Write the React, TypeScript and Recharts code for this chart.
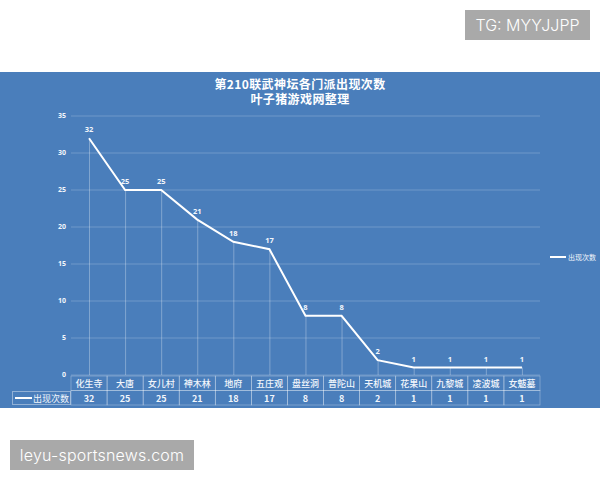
import { ComposedChart, Bar, Line, XAxis, YAxis, CartesianGrid, LabelList } from 'recharts';

const sects = ['化生寺', '大唐', '女儿村', '神木林', '地府', '五庄观', '盘丝洞', '普陀山', '天机城', '花果山', '九黎城', '凌波城', '女魃墓'];
const counts = [32, 25, 25, 21, 18, 17, 8, 8, 2, 1, 1, 1, 1];
const yTicks = [0, 5, 10, 15, 20, 25, 30, 35];
const seriesName = '出现次数';

const data = sects.map((name, i) => ({ name, count: counts[i] }));

const cjk = '"Noto Sans CJK SC", "Noto Sans", sans-serif';
const cellBorder = 'rgba(255,255,255,0.4)';

// one column of the data table under the axis
function TableTick({ x, payload, index }: any) {
    const w = 36.08;
    return (
        <g>
            <rect x={x - w / 2} y={376} width={w} height={14.5} fill="none" stroke={cellBorder} strokeWidth={0.7} />
            <rect x={x - w / 2} y={390.5} width={w} height={14.5} fill="none" stroke={cellBorder} strokeWidth={0.7} />
            <text x={x} y={386.5} textAnchor="middle" fontSize={9} fontWeight={500} fontFamily={cjk} fill="#f2f6fb">{payload.value}</text>
            <text x={x} y={401.5} textAnchor="middle" fontSize={9} fontWeight={700} fontFamily={cjk} fill="#f2f6fb">{counts[index]}</text>
        </g>
    );
}

function Stamp({ text, left, top, width, spacing }: { text: string; left: number; top: number; width: number; spacing: number }) {
    return (
        <div style={{ position: 'absolute', left, top, width, height: 30, background: '#a9a9a9', color: '#fff', fontFamily: 'Inter, "Noto Sans", sans-serif', fontWeight: 300, fontSize: 16, letterSpacing: spacing, lineHeight: '30px', textAlign: 'center', whiteSpace: 'nowrap' }}>
            {text}
        </div>
    );
}

export default function App() {
    return (
        <div style={{ position: 'absolute', left: 0, top: 0, width: 600, height: 480, background: '#fff', overflow: 'hidden' }}>
            <Stamp text="TG: MYYJJPP" left={465} top={10} width={125} spacing={0} />
            <Stamp text="leyu-sportsnews.com" left={10} top={440} width={184} spacing={0.2} />

            <div style={{ position: 'absolute', left: 0, top: 72, width: 600, height: 336, background: '#4a7ebb' }} />
            <div style={{ position: 'absolute', left: 0, top: 77, width: 600, textAlign: 'center', color: '#fff', fontFamily: cjk, fontWeight: 700, fontSize: 12, letterSpacing: 0.4, lineHeight: '14.5px' }}>
                第210联武神坛各门派出现次数<br />叶子猪游戏网整理
            </div>

            <div style={{ position: 'absolute', left: 0, top: 0 }}>
                <ComposedChart width={600} height={408} data={data} margin={{ top: 116, right: 60, bottom: 0, left: 0 }} barCategoryGap={0}>
                    <CartesianGrid vertical={false} stroke="rgba(255,255,255,0.3)" strokeWidth={0.7} />
                    <XAxis dataKey="name" axisLine={false} tickLine={false} interval={0} height={33} tick={<TableTick />} />
                    <YAxis domain={[0, 35]} ticks={yTicks} width={71} axisLine={false} tickLine={false} tickSize={3} tickMargin={2} tick={{ fontSize: 7, fontWeight: 700, fill: '#f2f6fb', fontFamily: 'Noto Sans, sans-serif' }} />
                    <Bar dataKey="count" barSize={1} fill="rgba(255,255,255,0.3)" isAnimationActive={false} />
                    <Line dataKey="count" type="linear" stroke="#fff" strokeWidth={2} dot={false} isAnimationActive={false}>
                        <LabelList dataKey="count" position="top" offset={6} fontSize={7.5} fontWeight={700} fill="#f2f6fb" fontFamily="Noto Sans, sans-serif" />
                    </Line>
                </ComposedChart>
            </div>

            {/* legend key cell of the table */}
            <div style={{ position: 'absolute', left: 12, top: 390.5, width: 59, height: 14.5, boxSizing: 'border-box', border: `0.7px solid ${cellBorder}` }}>
                <div style={{ position: 'absolute', left: 2, top: 5.5, width: 17, height: 2, background: '#fff' }} />
                <div style={{ position: 'absolute', left: 20, top: 0, color: '#f2f6fb', fontFamily: cjk, fontSize: 9, lineHeight: '13px', whiteSpace: 'nowrap' }}>{seriesName}</div>
            </div>

            {/* legend on the right */}
            <div style={{ position: 'absolute', left: 550, top: 256, width: 16, height: 2, background: '#fff' }} />
            <div style={{ position: 'absolute', left: 568, top: 252, color: '#f2f6fb', fontFamily: cjk, fontSize: 7, lineHeight: '10px', whiteSpace: 'nowrap' }}>{seriesName}</div>
        </div>
    );
}
